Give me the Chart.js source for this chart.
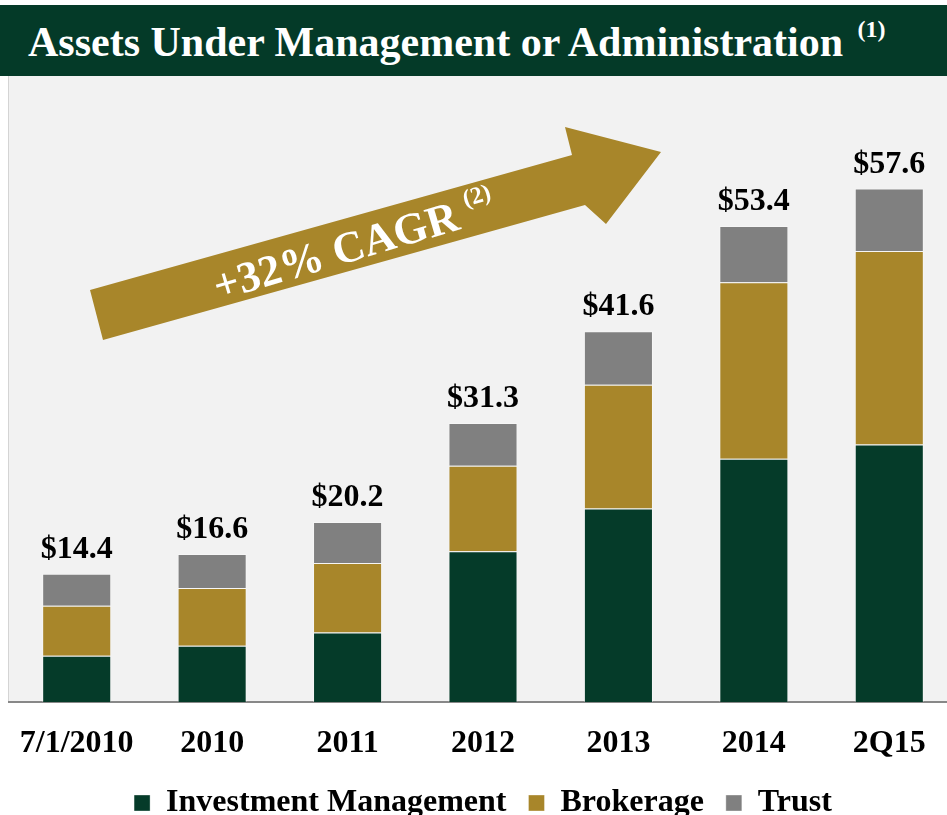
<!DOCTYPE html>
<html>
<head>
<meta charset="utf-8">
<script src="https://cdn.jsdelivr.net/npm/chart.js@4.4.0/dist/chart.umd.min.js"></script>
<style>
  body { margin: 0; background: #fff; }
  #wrap { position: relative; width: 947px; height: 815px; overflow: hidden; }
  #wrap canvas { position: absolute; left: 0; top: 0; }
  #banner {
    position: absolute; left: 0; top: 5px; width: 947px; height: 71px;
    background: #043a28; color: #fff;
    font: bold 42px "Liberation Serif", "Times New Roman", serif;
    line-height: 71px; padding-left: 28px; padding-top: 2px; box-sizing: border-box; z-index: 2;
    white-space: nowrap;
  }
  #banner span.sup { font-size: 24px; position: relative; top: -19px; margin-left: 4px; }
</style>
</head>
<body>
<div id="wrap">
  <div id="banner">Assets Under Management or Administration <span class="sup">(1)</span></div>
  <canvas id="aum" width="960" height="833" style="width:960px;height:833px"></canvas>
</div>
<script>
// values in $ billions
var periods = ["7/1/2010", "2010", "2011", "2012", "2013", "2014", "2Q15"];
var investMgmt = [5.2, 6.3, 7.8, 16.9, 21.7, 27.3, 28.9];
var brokerage = [5.6, 6.5, 7.8, 9.6, 13.9, 19.8, 21.7];
var trust = [3.6, 3.8, 4.6, 4.8, 6.0, 6.3, 7.0];
var totals = [14.4, 16.6, 20.2, 31.3, 41.6, 53.4, 57.6];

var serif = '"Liberation Serif", "Times New Roman", serif';

// gray plot background behind bars
const plotBg = {
  id: "plotBg",
  beforeDraw(chart) {
    const a = chart.chartArea;
    const ctx = chart.ctx;
    ctx.save();
    ctx.fillStyle = "#f2f2f2";
    ctx.fillRect(a.left - 1, 76, a.right - a.left + 1, a.bottom - 76);
    ctx.strokeStyle = "#d4d4d4";
    ctx.lineWidth = 1;
    ctx.beginPath();
    ctx.moveTo(a.left - 0.5, 76);
    ctx.lineTo(a.left - 0.5, a.bottom);
    ctx.stroke();
    ctx.restore();
  }
};

// totals on top of each stack + growth arrow
const extras = {
  id: "extras",
  afterDatasetsDraw(chart) {
    const ctx = chart.ctx;
    const x = chart.scales.x, y = chart.scales.y;
    ctx.save();
    ctx.fillStyle = "#000";
    ctx.font = "bold 32px " + serif;
    ctx.textAlign = "center";
    ctx.textBaseline = "alphabetic";
    totals.forEach((t, i) => {
      ctx.fillText("$" + t.toFixed(1), x.getPixelForValue(i), y.getPixelForValue(t) - 16);
    });

    // arrow
    ctx.fillStyle = "#a8862a";
    ctx.beginPath();
    ctx.moveTo(90, 290);
    ctx.lineTo(572, 155);
    ctx.lineTo(565, 127);
    ctx.lineTo(661, 152);
    ctx.lineTo(606, 224);
    ctx.lineTo(585, 205);
    ctx.lineTo(103, 340);
    ctx.closePath();
    ctx.fill();

    ctx.translate(350, 250);
    ctx.rotate(-16.5 * Math.PI / 180);
    ctx.fillStyle = "#fff";
    ctx.font = "bold 44px " + serif;
    ctx.textAlign = "left";
    ctx.textBaseline = "middle";
    const main = "+32% CAGR";
    const w = ctx.measureText(main).width;
    ctx.fillText(main, -w / 2 - 14, 0);
    ctx.font = "bold 24px " + serif;
    ctx.fillText("(2)", w / 2 - 4, -15);
    ctx.restore();
  }
};

const ctx = document.getElementById("aum").getContext("2d");
const chart = new Chart(ctx, {
  type: "bar",
  data: {
    labels: periods,
    datasets: [
      { label: "Investment Management", data: investMgmt, backgroundColor: "#053b29", borderColor: "rgba(255,255,255,0.35)", borderWidth: 1 },
      { label: "Brokerage", data: brokerage, backgroundColor: "#a8862a", borderColor: "rgba(255,255,255,0.35)", borderWidth: 1 },
      { label: "Trust", data: trust, backgroundColor: "#808080", borderColor: "rgba(255,255,255,0.35)", borderWidth: 1 }
    ]
  },
  options: {
    responsive: false,
    animation: false,
    layout: { padding: { top: 78, left: 9, right: 3, bottom: 4 } },
    datasets: { bar: { categoryPercentage: 1, barPercentage: 0.51 } },
    scales: {
      x: {
        stacked: true,
        grid: { display: false, drawTicks: false },
        border: { display: true, color: "#888888", width: 2 },
        ticks: { color: "#000", padding: 23, font: { family: serif, size: 32, weight: "bold" } },
        afterFit(scale) {
          scale.height = 63;
          scale.paddingLeft = 0;
          scale.paddingRight = 0;
        }
      },
      y: {
        stacked: true,
        display: false,
        min: 0,
        max: 70
      }
    },
    plugins: {
      legend: {
        position: "bottom",
        labels: {
          color: "#000",
          boxWidth: 16,
          boxHeight: 16,
          padding: 22,
          font: { family: serif, size: 32, weight: "bold" }
        }
      },
      tooltip: { enabled: false }
    }
  },
  plugins: [plotBg, extras]
});
</script>
</body>
</html>
